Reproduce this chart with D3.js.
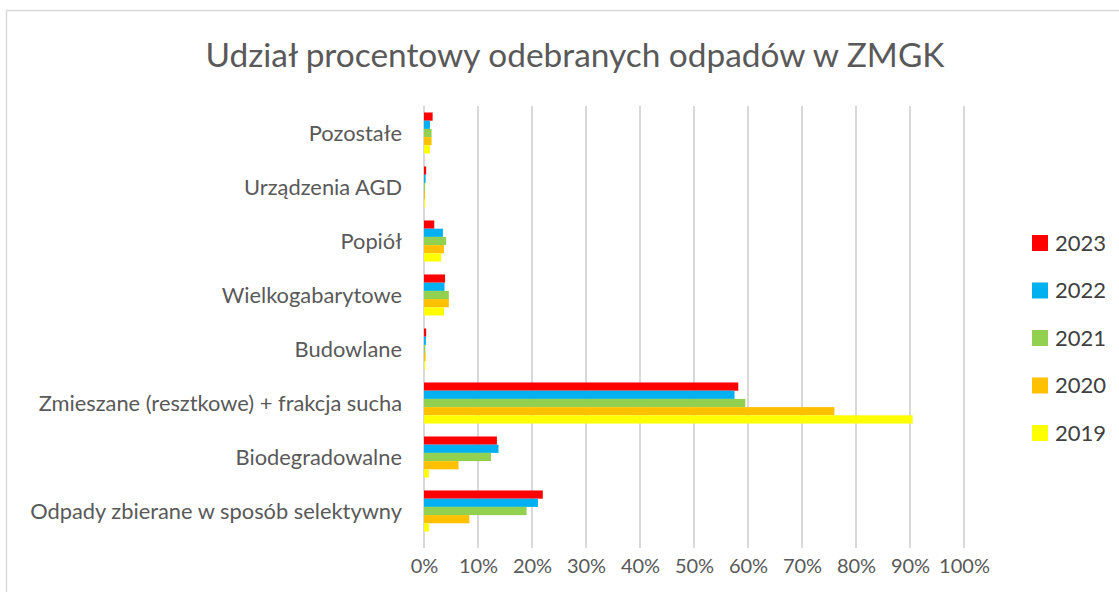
<!DOCTYPE html>
<html>
<head>
<meta charset="utf-8">
<script src="https://cdn.jsdelivr.net/npm/d3@7"></script>
<style>
  body { margin: 0; background: #fff; }
  text { font-family: Lato, "Open Sans", sans-serif; fill: #595959; }
</style>
</head>
<body>
<div id="chart"></div>
<script>
// Categories, top to bottom as drawn
const categories = [
    "Pozostałe",
    "Urządzenia AGD",
    "Popiół",
    "Wielkogabarytowe",
    "Budowlane",
    "Zmieszane (resztkowe) + frakcja sucha",
    "Biodegradowalne",
    "Odpady zbierane w sposób selektywny"
];

const years = ["2023", "2022", "2021", "2020", "2019"];
const colors = ["#FF0000", "#00B0F0", "#92D050", "#FFC000", "#FFFF00"];

// Percent values per year, same order as categories
const v2023 = [1.6, 0.4, 1.9, 3.9, 0.4, 58.2, 13.5, 22.0];
const v2022 = [1.1, 0.3, 3.5, 3.8, 0.35, 57.5, 13.8, 21.1];
const v2021 = [1.4, 0.2, 4.1, 4.6, 0.25, 59.5, 12.4, 19.0];
const v2020 = [1.4, 0.2, 3.7, 4.6, 0.3, 76.0, 6.4, 8.4];
const v2019 = [1.1, 0.2, 3.2, 3.7, 0.2, 90.5, 0.9, 0.9];

const tickValues = [0, 10, 20, 30, 40, 50, 60, 70, 80, 90, 100];

const series = [v2023, v2022, v2021, v2020, v2019];

const W = 1119, H = 592;
const plot = { left: 424, right: 964, top: 106, bottom: 538 };

const svg = d3.select("#chart").append("svg")
    .attr("width", W)
    .attr("height", H);

// chart frame
svg.append("rect")
    .attr("x", 6.5).attr("y", 10.5)
    .attr("width", W).attr("height", H)
    .attr("fill", "#fff")
    .attr("stroke", "#d9d9d9")
    .attr("stroke-width", 1.5);

// shrink/grow a text node so it spans a given width
const fitWidth = (sel, target) => {
    const node = sel.node();
    const fs = parseFloat(sel.attr("font-size"));
    const w = node.getComputedTextLength();
    sel.attr("font-size", fs * target / w);
};

const x = d3.scaleLinear().domain([0, 100]).range([plot.left, plot.right]);
const y = d3.scaleBand().domain(categories)
    .range([plot.top, plot.bottom])
    .paddingInner(0.24).paddingOuter(0.12);
const ySub = d3.scaleBand().domain(years).range([0, y.bandwidth()]);

// gridlines
svg.append("g")
    .selectAll("line")
    .data(tickValues)
    .enter()
    .append("line")
    .attr("x1", d => x(d)).attr("x2", d => x(d))
    .attr("y1", plot.top).attr("y2", plot.bottom + 10)
    .attr("stroke", "#d9d9d9")
    .attr("stroke-width", 2);

// bars
const rows = categories.map((c, i) => ({ cat: c, vals: years.map((yr, j) => ({ year: yr, v: series[j][i], color: colors[j] })) }));

const groups = svg.append("g")
    .selectAll("g")
    .data(rows)
    .enter()
    .append("g")
    .attr("transform", d => `translate(0, ${y(d.cat)})`);

groups.selectAll("rect")
    .data(d => d.vals)
    .enter()
    .append("rect")
    .attr("x", x(0))
    .attr("y", d => ySub(d.year))
    .attr("width", d => x(d.v) - x(0))
    .attr("height", ySub.bandwidth())
    .attr("fill", d => d.color);

// x axis labels
const xAxis = d3.axisBottom(x)
    .tickValues(tickValues)
    .tickFormat(d => d + "%")
    .tickSize(0)
    .tickPadding(0);

const gx = svg.append("g")
    .attr("transform", `translate(0, ${plot.bottom + 21})`)
    .call(xAxis);
gx.select(".domain").remove();
gx.selectAll("text")
    .attr("font-size", 20)
    .style("font-family", "Lato, 'Open Sans', sans-serif")
    .attr("fill", "#595959");

// category labels
const catLabels = svg.append("g")
    .selectAll("text")
    .data(categories)
    .enter()
    .append("text")
    .attr("x", 402)
    .attr("y", d => y(d) + y.bandwidth() / 2)
    .attr("dy", "0.35em")
    .attr("text-anchor", "end")
    .attr("font-size", 18)
    .text(d => d);
{
    const longest = catLabels.filter((d, i) => i === 7);
    const w = longest.node().getComputedTextLength();
    catLabels.attr("font-size", 18 * 372 / w);
}

// title
const title = svg.append("text")
    .attr("x", 575)
    .attr("y", 67)
    .attr("text-anchor", "middle")
    .attr("font-size", 28)
    .text("Udział procentowy odebranych odpadów w ZMGK");
fitWidth(title, 739);

// legend
const legend = svg.append("g")
    .selectAll("g")
    .data(years)
    .enter()
    .append("g")
    .attr("transform", (d, i) => `translate(1032, ${243 + i * 47.5})`);

legend.append("rect")
    .attr("x", 0).attr("y", -8)
    .attr("width", 16).attr("height", 16)
    .attr("fill", (d, i) => colors[i]);

legend.append("text")
    .attr("x", 23)
    .attr("dy", "0.36em")
    .attr("font-size", 22)
    .style("fill", "#404040")
    .text(d => d);
</script>
</body>
</html>
